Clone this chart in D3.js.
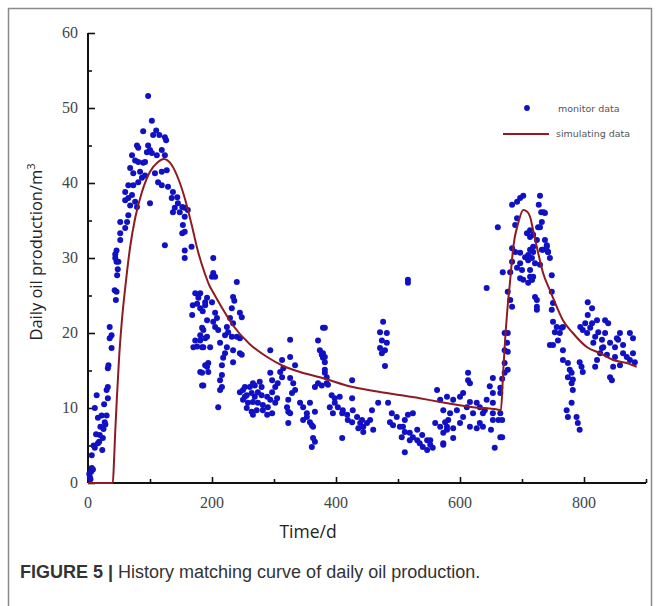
<!DOCTYPE html>
<html>
<head>
<meta charset="utf-8">
<script src="https://cdn.jsdelivr.net/npm/d3@7"></script>
<style>
  body { margin: 0; background: #fff; }
  svg { display: block; }
</style>
</head>
<body>
<svg id="chart" width="659" height="606"></svg>
<script>
// monitor data [day, daily oil m3]
var monitorPoints = [
    [3, 0.8], [5, 1.5], [2, 1.2], [6, 2], [4, 0.5], [8, 1.8], [6, 3.7], [11, 4.7], [16, 5.3], [23, 4.4],
    [19, 6.4], [24, 6], [27, 8.1], [16, 8.7], [11, 10], [14, 11.7], [20, 7.5], [25, 7.2], [28, 7.8], [22, 9],
    [13, 6.5], [18, 5.5], [9, 5], [30, 9], [26, 10.5], [32, 12.8], [30, 12.4], [32, 11.3], [32, 15.3], [33, 15.7],
    [35, 20.8], [38, 19.7], [35, 19.3], [38, 18], [43, 25.7], [46, 25.5], [45, 24.4], [47, 27.7], [48, 28.5], [46, 29.5],
    [44, 30.5], [46, 31], [44, 30], [49, 29.5], [52, 32.4], [52, 33.3], [60, 34], [63, 34.8], [52, 34.8], [65, 35.7],
    [60, 38.8], [65, 38], [60, 37.7], [71, 38.4], [76, 37.5], [68, 37], [79, 36.8], [73, 39.7], [81, 40.1], [87, 40.7],
    [65, 39.7], [68, 42], [73, 41.3], [84, 41.5], [92, 41], [71, 43.7], [76, 43], [81, 42.8], [89, 42.7], [79, 45],
    [81, 44.7], [97, 45], [100, 44.4], [95, 44.1], [103, 44], [111, 43.7], [119, 44.4], [124, 43.7], [89, 46.9], [97, 51.6],
    [103, 48.3], [110, 47], [115, 46.4], [105, 46.4], [124, 46.1], [126, 45.7], [108, 41.3], [119, 41.5], [127, 41.7], [113, 40.1],
    [119, 39.7], [92, 42.8], [100, 37.3], [129, 39.5], [137, 38.8], [144, 38.1], [135, 38], [145, 37.3], [152, 36.8], [156, 36.7],
    [161, 36.4], [148, 36.1], [156, 35.5], [140, 36.7], [137, 36.1], [153, 34.4], [152, 33.3], [156, 33.5], [124, 31.7], [156, 31],
    [167, 31.5], [156, 30],
    [173, 25.3], [178, 24.7], [189, 24.1], [169, 23.7], [181, 23.3], [168, 22.4], [185, 22.9], [176, 23.9], [184, 20.7], [181, 19.7],
    [189, 19.3], [173, 19], [184, 18.1], [176, 18.2], [170, 18.1], [189, 15.7], [181, 14.8], [184, 13], [202, 30], [202, 28],
    [200, 27.5], [205, 27.5], [240, 26.8], [234, 24.8], [236, 24.3], [181, 25.3], [192, 24.7], [200, 24.1], [189, 23.7], [232, 23.3],
    [245, 22.7], [248, 22.1], [229, 22], [234, 21.3], [205, 22.7], [208, 22], [202, 21.5], [192, 21.7], [210, 20.4], [205, 20.8],
    [224, 20.8], [226, 20.1], [221, 19.7], [232, 19.5], [240, 19.5], [245, 19.3], [186, 20.4], [192, 19.5], [181, 19], [186, 18.1],
    [213, 18.7], [224, 18.1], [197, 18.1], [221, 17.3], [234, 17.7], [245, 17.3], [248, 17.1], [218, 16.7], [234, 16.1], [216, 15.7],
    [194, 16], [192, 15.5], [194, 14.8], [184, 14.7], [186, 13], [216, 14.4], [213, 13.7], [216, 12.8], [213, 12.4], [210, 10.1],
    [245, 12.1], [250, 12.4], [256, 11.7], [264, 12], [269, 11.5], [274, 12.1], [280, 11.7], [289, 11.5], [294, 11.1], [302, 10.7],
    [305, 11.3], [250, 11.1], [258, 10.7], [266, 10.8], [274, 10.7], [282, 10.4], [256, 10], [264, 9.5], [272, 9.7], [282, 9.7],
    [290, 10.1], [297, 9.3], [266, 9.1], [289, 9.1], [253, 11.5], [269, 13], [280, 12.8], [261, 12.8], [266, 13.3], [277, 13.5],
    [253, 12.8], [294, 14.7], [297, 13.7], [294, 17.7], [313, 16.4], [326, 19.1], [326, 16.8], [334, 15.7], [310, 14.8], [313, 14.1],
    [306, 13.3], [302, 12.8], [297, 12.1], [315, 15.3], [326, 14], [331, 13.3], [334, 12.4], [329, 12], [323, 11.1], [321, 10.1],
    [323, 9.5], [326, 9.3], [342, 10.7], [347, 10.1], [353, 9.3], [347, 8.4], [358, 8.1], [363, 7.5], [358, 10.7], [366, 9.5],
    [353, 8.8], [361, 7.7], [323, 8], [363, 6], [366, 5.5], [361, 4.8], [379, 20.7], [382, 20.7], [371, 19], [374, 17.7],
    [377, 17.1], [379, 16.7], [382, 16.1], [382, 14.7], [385, 14.1], [371, 13.3], [377, 13], [366, 12.8], [379, 17.3], [382, 16.8],
    [382, 15.1], [385, 13.3], [387, 13.1],
    [516, 27.1], [516, 26.7], [476, 21.5], [471, 20.1], [482, 20], [474, 19], [482, 18.7], [471, 18], [479, 17.7], [474, 17.3],
    [479, 15.6], [426, 13.7], [393, 11.7], [398, 11.3], [406, 11.5], [398, 10.7], [390, 10.1], [403, 10.1], [411, 9.7], [395, 9.3],
    [410, 9.3], [418, 9.1], [427, 9.7], [434, 8.8], [426, 8.1], [439, 8], [444, 7.5], [450, 8], [455, 8.4], [458, 9.7],
    [444, 6.8], [460, 7.1], [419, 8.4], [436, 7.3], [442, 8.4], [410, 6], [426, 11.3], [468, 10.7], [484, 10.7], [490, 9.3],
    [498, 8.8], [487, 8.1], [492, 7.7], [503, 7.5], [508, 7.5], [511, 6.8], [519, 6.7], [524, 6.1], [531, 5.7], [519, 5.7],
    [535, 5.3], [547, 5.7], [552, 5.1], [556, 4.7], [547, 4.4], [540, 4.8], [511, 8.4], [524, 9.3], [506, 6.1], [516, 9.1],
    [531, 7.1], [539, 6.4], [552, 5.7], [511, 4.1], [563, 12.4], [560, 8], [568, 7.5], [576, 8.1], [581, 8.4], [579, 7.1],
    [573, 5.3],
    [702, 38.3], [697, 38], [684, 37.1], [692, 37.5], [729, 38.3], [727, 37.1], [731, 36.1], [661, 34.1], [692, 35.3], [689, 34.4],
    [708, 33.3], [713, 32.8], [726, 34.1], [684, 31.3], [689, 30.8], [697, 30.7], [705, 30.1], [710, 29.7], [684, 29.5], [697, 29.3],
    [710, 30.4], [718, 30.8], [732, 31.1], [740, 31.7], [742, 30.8], [721, 29.3], [729, 29.1], [692, 28.7], [700, 28.4], [681, 28.1],
    [669, 28.1], [697, 27.3], [702, 27.1], [713, 27.5], [716, 27.1], [710, 26.7], [643, 26], [677, 25.5], [681, 24.4], [684, 23.5],
    [721, 24.8], [724, 24.4], [724, 23.5], [724, 23.1], [672, 20], [677, 20], [676, 18.7], [672, 17.7], [677, 17.5], [672, 16],
    [677, 15.1], [672, 14.7], [745, 18.4], [613, 14.7], [613, 13.7], [616, 13.3], [653, 14], [648, 12.9], [653, 12], [668, 13.9],
    [665, 12.7], [665, 12], [643, 11.1], [640, 9.7], [653, 10.7], [665, 9.3], [653, 9.3], [668, 8.4], [665, 6.1], [653, 8.4],
    [650, 7.1], [656, 4.7], [668, 6.1], [662, 8.4], [568, 11.1], [579, 11.5], [589, 11.1], [600, 11.5], [605, 12], [616, 10.8],
    [627, 10.7], [632, 10.1], [637, 9.3], [573, 9.7], [584, 9.3], [595, 9.7], [605, 8.8], [621, 9.3], [632, 8], [627, 7.3],
    [616, 7.5], [600, 8], [589, 7.3], [579, 7.5], [573, 6.7], [589, 6], [637, 7.5], [611, 10.1], [573, 5.1],
    [735, 36.1], [737, 36], [732, 34.8], [729, 34.1], [713, 33.7], [718, 33.1], [724, 32.4], [737, 32.4], [740, 31.5], [734, 31.1],
    [742, 30.8], [745, 30], [713, 31.1], [718, 31.5], [716, 30], [713, 28.4], [718, 27.5], [716, 27.1], [748, 27.7], [748, 25.5],
    [750, 24], [748, 23.1], [750, 21.5], [756, 20.8], [764, 20.7], [753, 20.1], [761, 20], [766, 20.8], [758, 19], [750, 18.4],
    [766, 17.7], [766, 16.4], [774, 16], [777, 15.1], [780, 14.7], [774, 14.1], [782, 13.8], [780, 13.3], [782, 12.4], [793, 16.1],
    [796, 15.5], [798, 14.8], [780, 10.7], [772, 9.7], [774, 8.8], [788, 8.8], [790, 8], [793, 7.1],
    [806, 24.1], [813, 23.3], [806, 22.4], [802, 21.3], [813, 21.3], [821, 21.7], [834, 21.7], [839, 21.3], [810, 20.7], [798, 20.4],
    [823, 20.1], [834, 20], [818, 19.5], [829, 19.1], [815, 18.7], [858, 20], [874, 20], [879, 19.3], [855, 19.1], [863, 18.4],
    [850, 18.1], [842, 18.7], [831, 18.1], [826, 17.3], [837, 17.1], [850, 16.8], [863, 17.3], [879, 17.3], [874, 16.4], [882, 16.1],
    [858, 15.7], [847, 15.5], [845, 13.7], [821, 16.4], [818, 15.5], [794, 20.8], [805, 20], [842, 14.1], [869, 16.8], [853, 19.3],
    [829, 18]
]

// simulating data (history match curve)
var simDays = [0, 40, 42, 44, 47, 50, 55, 60, 68, 76, 87, 100, 113, 122, 135, 145, 156, 167, 177, 189,
    196, 202, 218, 234, 261, 289, 315, 342, 374, 427, 482, 535, 568, 621, 660, 666, 669, 672, 676, 681,
    686, 694, 702, 708, 713, 718, 726, 734, 745, 756, 766, 782, 805, 826, 847, 869, 885]
var simValues = [0, 0, 3, 7, 12, 16.5, 22, 26, 31.5, 35.3, 38.8, 41.5, 42.8, 43.2, 42.4, 40.7, 38, 34.5, 31, 27.8,
    26.3, 25.4, 23.1, 21, 18.5, 16.8, 15.6, 14.8, 14.1, 12.8, 12, 11.3, 10.8, 10.1, 9.8, 9.7, 13.7, 18.1, 22.7, 27.1,
    31.5, 34.7, 36.4, 36.2, 35.5, 33.7, 30.7, 28, 25.7, 23.5, 21.7, 20, 18.1, 17.3, 16.4, 16, 15.5]

var xTicks = [0, 200, 400, 600, 800]
var xMinorTicks = [100, 300, 500, 700, 900]
var yTicks = [0, 10, 20, 30, 40, 50, 60]
var yMinorTicks = [5, 15, 25, 35, 45, 55]

var svg = d3.select("#chart")

var x = d3.scaleLinear().domain([0, 900]).range([88, 646])
var y = d3.scaleLinear().domain([0, 60]).range([483, 33])

// outer frame of the figure
svg.append("rect")
    .attr("x", 8.5)
    .attr("y", 8.5)
    .attr("width", 643)
    .attr("height", 640)
    .attr("fill", "none")
    .attr("stroke", "#8a8a8a")
    .attr("stroke-width", 1.5)

// axes, ticks pointing inward
var xAxis = svg.append("g")
    .attr("transform", "translate(0," + y(0) + ")")
    .call(d3.axisTop(x).tickValues(xTicks).tickSize(6).tickFormat(""))
xAxis.append("g")
    .call(d3.axisTop(x).tickValues(xMinorTicks).tickSize(4).tickFormat(""))
xAxis.selectAll("path").remove()
xAxis.selectAll("line").attr("stroke", "#111").attr("stroke-width", 1.6)

var yAxis = svg.append("g")
    .attr("transform", "translate(" + x(0) + ",0)")
    .call(d3.axisRight(y).tickValues(yTicks).tickSize(7).tickFormat(""))
yAxis.append("g")
    .call(d3.axisRight(y).tickValues(yMinorTicks).tickSize(4).tickFormat(""))
yAxis.selectAll("path").remove()
yAxis.selectAll("line").attr("stroke", "#111").attr("stroke-width", 1.6)

svg.append("line")
    .attr("x1", x(0)).attr("x2", x(900))
    .attr("y1", y(0)).attr("y2", y(0))
    .attr("stroke", "#111")
    .attr("stroke-width", 2)

svg.append("line")
    .attr("x1", x(0)).attr("x2", x(0))
    .attr("y1", y(0)).attr("y2", y(60))
    .attr("stroke", "#111")
    .attr("stroke-width", 2)

svg.append("g")
    .selectAll("text")
    .data(xTicks)
    .enter().append("text")
    .attr("x", d => x(d))
    .attr("y", 508)
    .attr("text-anchor", "middle")
    .attr("font-family", "'Liberation Serif', 'DejaVu Serif', serif")
    .attr("font-size", 16)
    .attr("fill", "#444")
    .text(d => d)

svg.append("g")
    .selectAll("text")
    .data(yTicks)
    .enter().append("text")
    .attr("x", 78)
    .attr("y", d => y(d) + 5)
    .attr("text-anchor", "end")
    .attr("font-family", "'Liberation Serif', 'DejaVu Serif', serif")
    .attr("font-size", 16)
    .attr("fill", "#444")
    .text(d => d)

// axis titles
svg.append("text")
    .attr("x", 308)
    .attr("y", 538)
    .attr("text-anchor", "middle")
    .attr("font-family", "'Open Sans', sans-serif")
    .attr("font-size", 17.5)
    .attr("fill", "#222")
    .text("Time/d")

var yTitle = svg.append("text")
    .attr("transform", "translate(42,252) rotate(-90)")
    .attr("text-anchor", "middle")
    .attr("font-family", "'Open Sans', sans-serif")
    .attr("font-size", 16.5)
    .attr("fill", "#222")
yTitle.append("tspan").text("Daily oil production/m")
yTitle.append("tspan")
    .attr("font-size", 11)
    .attr("dy", -7)
    .text("3")

// monitor data points
svg.append("g")
    .selectAll("circle")
    .data(monitorPoints)
    .enter().append("circle")
    .attr("cx", d => x(d[0]))
    .attr("cy", d => y(d[1]))
    .attr("r", 3)
    .attr("fill", "#1010c4")

// simulated curve
var simLine = d3.line()
    .x(d => x(d[0]))
    .y(d => y(d[1]))
    .curve(d3.curveMonotoneX)

svg.append("path")
    .datum(simDays.map((d, i) => [d, simValues[i]]))
    .attr("d", simLine)
    .attr("fill", "none")
    .attr("stroke", "#8e1b22")
    .attr("stroke-width", 2)

// legend
var legend = svg.append("g").attr("class", "legend")
legend.append("circle")
    .attr("cx", 527)
    .attr("cy", 108)
    .attr("r", 2.9)
    .attr("fill", "#1010c4")
legend.append("text")
    .attr("x", 558)
    .attr("y", 112)
    .attr("font-family", "'DejaVu Sans', sans-serif")
    .attr("font-size", 9.5)
    .attr("fill", "#555")
    .text("monitor data")
legend.append("line")
    .attr("x1", 503).attr("x2", 549)
    .attr("y1", 134).attr("y2", 134)
    .attr("stroke", "#8e1b22")
    .attr("stroke-width", 2)
legend.append("text")
    .attr("x", 556)
    .attr("y", 137)
    .attr("font-family", "'DejaVu Sans', sans-serif")
    .attr("font-size", 9.5)
    .attr("fill", "#555")
    .text("simulating data")

// caption
var caption = svg.append("text")
    .attr("x", 20)
    .attr("y", 578)
    .attr("font-family", "'Liberation Sans', Arial, sans-serif")
    .attr("font-size", 18)
    .attr("fill", "#333")
caption.append("tspan")
    .attr("font-weight", "bold")
    .text("FIGURE 5 | ")
caption.append("tspan")
    .text("History matching curve of daily oil production.")
</script>
</body>
</html>
